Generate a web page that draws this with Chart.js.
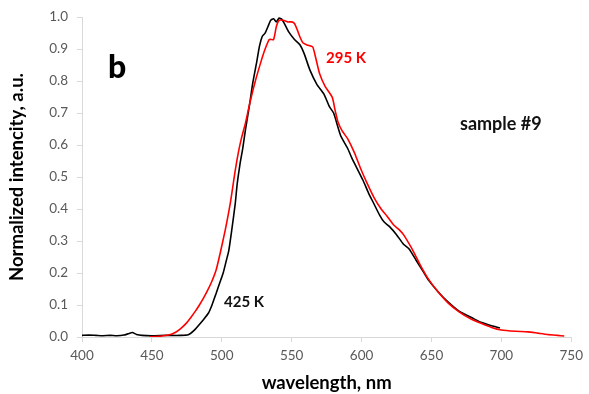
<!DOCTYPE html>
<html>
<head>
<meta charset="utf-8">
<script src="https://cdn.jsdelivr.net/npm/chart.js@4.4.1/dist/chart.umd.min.js"></script>
<style>
html,body{margin:0;padding:0;background:#fff;}
#wrap{width:589px;height:394px;position:relative;}
</style>
</head>
<body>
<div id="wrap"><canvas id="c" width="589" height="394"></canvas></div>
<script>
// 425 K (black)
const wl425 = [400,405,410,415,420,425,430,433,436,439,443,450,460,470,476,480,483.5,487,490.5,493,496,499,501,503,505,507,509.6,511,513,515,517,520,522,525,527,529,531,533,535,537,539,541,543,545,548,552,556,559,563,568,573,577,580,585,590,593,597,601,605,609,613,616,620,625,630,634,639,644,648,655,662,670,679,686,693,699];
const int425 = [0.005,0.006,0.005,0.004,0.005,0.004,0.006,0.010,0.014,0.008,0.005,0.004,0.005,0.005,0.007,0.02,0.037,0.055,0.075,0.10,0.137,0.175,0.20,0.235,0.27,0.33,0.416,0.478,0.54,0.59,0.65,0.73,0.79,0.86,0.91,0.94,0.95,0.97,0.99,0.995,0.985,0.997,0.993,0.978,0.953,0.93,0.913,0.885,0.835,0.79,0.76,0.72,0.70,0.63,0.59,0.56,0.525,0.49,0.45,0.415,0.38,0.36,0.345,0.32,0.29,0.275,0.24,0.205,0.177,0.14,0.109,0.08,0.06,0.045,0.035,0.028];
// 295 K (red)
const wl295 = [448,455,462,467,471,475,478,481,484,487,490,493,496,499,502.5,506,509.6,512,514,517,520,524,528,531,534,537,539,541,544,547,550,552,554,556,558,561,565,567,570,574,579,581,583,586,590,595,599,604,609,614,618,623,627,630,636,642,648,655,662,670,678,686,693,700,710,719,726,733,740,745];
const int295 = [0.000,0.002,0.006,0.015,0.028,0.045,0.062,0.08,0.10,0.122,0.147,0.175,0.21,0.265,0.335,0.416,0.52,0.58,0.62,0.67,0.73,0.80,0.86,0.90,0.93,0.93,0.97,0.99,0.99,0.985,0.985,0.98,0.96,0.937,0.92,0.913,0.907,0.876,0.823,0.783,0.75,0.71,0.674,0.645,0.62,0.575,0.53,0.48,0.435,0.40,0.379,0.35,0.335,0.32,0.276,0.225,0.18,0.14,0.106,0.078,0.057,0.042,0.03,0.022,0.018,0.016,0.012,0.008,0.005,0.003];
const xTicks = [400,450,500,550,600,650,700,750];
const yTicks = [0.0,0.1,0.2,0.3,0.4,0.5,0.6,0.7,0.8,0.9,1.0];
const labels = {b:"b", red:"295 K", black:"425 K", sample:"sample #9"};

const FONT = "Lato, 'Open Sans', sans-serif";
const pts = (xs, ys) => xs.map((x,i)=>({x:x,y:ys[i]}));

const textPlugin = {
  id:'texts',
  afterDraw(chart){
    const ctx = chart.ctx;
    ctx.save();
    ctx.textBaseline = 'middle';
    ctx.textAlign = 'left';
    ctx.fillStyle = '#000';
    ctx.font = "900 32px " + FONT;
    ctx.fillText(labels.b, 108, 68);
    ctx.font = "bold 15px " + FONT;
    ctx.fillStyle = '#ff0000';
    ctx.fillText(labels.red, 326, 58);
    ctx.fillStyle = '#111';
    ctx.fillText(labels.black, 224, 302);
    ctx.font = "bold 18px " + FONT;
    ctx.fillText(labels.sample, 460, 124);
    ctx.restore();
  }
};

new Chart(document.getElementById('c'), {
  type:'line',
  data:{datasets:[
    {label:'295 K', data:pts(wl295,int295), borderColor:'#ff0000', borderWidth:1.6, pointRadius:0, tension:0.2, fill:false},
    {label:'425 K', data:pts(wl425,int425), borderColor:'#000000', borderWidth:1.6, pointRadius:0, tension:0.2, fill:false}
  ]},
  options:{
    responsive:false, animation:false, devicePixelRatio:1,
    layout:{padding:{top:15,right:12,left:0,bottom:0}},
    plugins:{legend:{display:false}, tooltip:{enabled:false}},
    scales:{
      x:{type:'linear', min:400, max:750,
        afterBuildTicks(s){ s.ticks = xTicks.map(v=>({value:v})); },
        afterFit(s){ s.height = 57; },
        grid:{drawOnChartArea:false, drawTicks:true, tickLength:5, color:'#d9d9d9'},
        border:{color:'#d9d9d9', width:1},
        ticks:{color:'#595959', font:{family:FONT, size:13.5}, padding:6, maxRotation:0},
        title:{display:true, text:'wavelength, nm', color:'#000', font:{family:FONT, size:18.5, weight:'bold'}, padding:{top:1,bottom:0}}
      },
      y:{type:'linear', min:0, max:1,
        afterBuildTicks(s){ s.ticks = yTicks.map(v=>({value:v})); },
        afterFit(s){ s.width = 82; },
        grid:{drawOnChartArea:false, drawTicks:true, tickLength:5, color:'#d9d9d9'},
        border:{color:'#d9d9d9', width:1},
        ticks:{color:'#595959', font:{family:FONT, size:13.5}, padding:9, callback:v=>Number(v).toFixed(1)},
        title:{display:true, text:'Normalized intencity, a.u.', color:'#000', font:{family:FONT, size:18.5, weight:'bold'}, padding:{top:6,bottom:4}}
      }
    }
  },
  plugins:[textPlugin]
});
</script>
</body>
</html>
